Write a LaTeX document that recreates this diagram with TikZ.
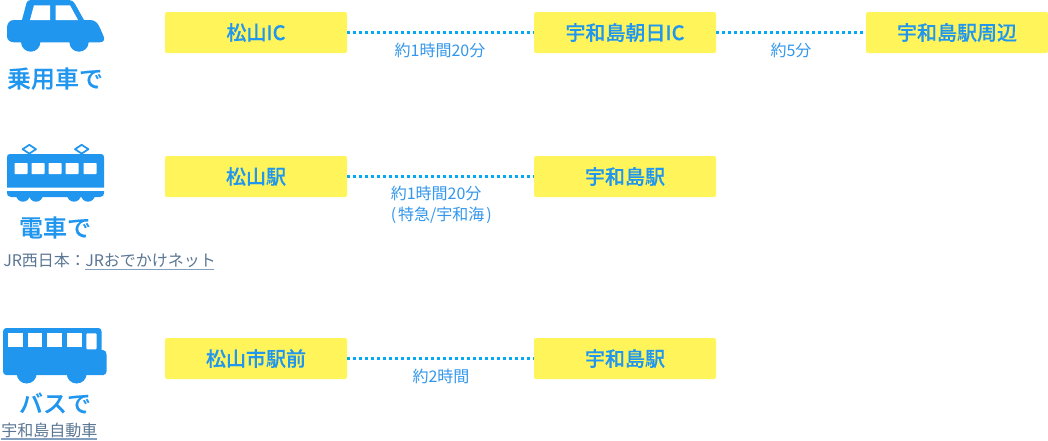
\documentclass[tikz,border=0pt]{standalone}
\usepackage{fontspec}
\setmainfont{Noto Sans CJK JP}
\newfontfamily\medcjk{Noto Sans CJK JP Medium}[FakeBold=0.3]
\definecolor{mainblue}{RGB}{33,150,238}
\definecolor{timeblue}{RGB}{50,150,235}
\definecolor{dotblue}{RGB}{3,169,244}
\definecolor{boxyellow}{RGB}{255,245,90}
\definecolor{linkgray}{RGB}{90,118,146}
\definecolor{linkline}{RGB}{130,160,190}
\tikzset{
  x=0.75pt,y=-0.75pt,
  stopbox/.style={fill=boxyellow,rounded corners=1.5pt,minimum width=136.5pt,minimum height=30.75pt,inner sep=0pt,text=mainblue,font=\medcjk\fontsize{15}{15}\selectfont},
  conn/.style={dotblue,line width=2.25pt,dash pattern=on 2.25pt off 2.25pt},
  timelabel/.style={text=timeblue,font=\fontsize{12}{16}\selectfont,align=center,inner sep=0pt},
  modelabel/.style={text=mainblue,font=\medcjk\fontsize{18}{18}\selectfont,inner sep=0pt},
  linklabel/.style={text=linkgray,font=\fontsize{12}{12}\selectfont,inner sep=0pt},
  icon/.style={fill=mainblue,draw=none},
  hole/.style={fill=white,draw=none},
}
\begin{document}
\begin{tikzpicture}
\useasboundingbox (0,0) rectangle (1048,440);
% stops
\node[stopbox] (a1) at (256,32.5) {松山IC};
\node[stopbox] (a2) at (625,32.5) {宇和島朝日IC};
\node[stopbox] (a3) at (957,32.5) {宇和島駅周辺};
\node[stopbox] (b1) at (256,176.5) {松山駅};
\node[stopbox] (b2) at (625,176.5) {宇和島駅};
\node[stopbox] (c1) at (256,358.5) {松山市駅前};
\node[stopbox] (c2) at (625,358.5) {宇和島駅};
% connectors
\draw[conn] (a1) -- (a2);
\draw[conn] (a2) -- (a3);
\draw[conn] (b1) -- (b2);
\draw[conn] (c1) -- (c2);
% times
\node[timelabel] (t1) at (440,50.5) {約1時間20分};
\node[timelabel] (t2) at (791,50.5) {約5分};
\node[timelabel,align=left,anchor=west] (t3) at (390.5,205) {約1時間20分\\(\kern1.5pt特急/宇和海\kern1.5pt)};
\node[timelabel] (t4) at (441,376) {約2時間};
% mode titles
\node[modelabel] (m1) at (55,78.5) {乗用車で};
\node[modelabel] (m2) at (55,227.5) {電車で};
\node[modelabel] (m3) at (55,403) {バスで};
% links
\node[linklabel,anchor=west] (l1) at (3,260.5) {JR西日本：};
\node[linklabel,anchor=west] (l2) at (85,260.5) {JRおでかけネット};
\draw[linkline,line width=0.9pt] (85,269.5) -- (214,269.5);
\node[linklabel,anchor=west] (l3) at (1,430) {宇和島自動車};
\draw[linkline,line width=0.9pt] (1,439) -- (97,439);
% car
\fill[icon] (31,0) .. controls (28.5,0) and (27,1) .. (26.5,3) -- (22,20) -- (14,20) .. controls (9,20) and (7,24) .. (7,28) -- (7,36) .. controls (7,40) and (10,42.3) .. (14,42.3)
  -- (100,42.3)
  .. controls (104,42.3) and (105,39) .. (103.5,36) -- (100,28) .. controls (98,23) and (95,20) .. (90,20) -- (84,20) -- (75,4) .. controls (73.5,1.5) and (72,0) .. (69,0) -- cycle;
\fill[icon] (30.7,42) circle[radius=9.7];
\fill[icon] (79,42) circle[radius=9.7];
\fill[hole] (34,5.3) -- (50,5.3) -- (50,20) -- (30,20) -- cycle;
\fill[hole] (55.7,5.3) -- (70,5.3) -- (78,20) -- (55.7,20) -- cycle;
% train
\fill[icon] (10,154) -- (101,154) .. controls (103,154) and (104,155) .. (104,157) -- (104,187.7) -- (7,187.7) -- (7,157) .. controls (7,155) and (8,154) .. (10,154) -- cycle;
\begin{scope}
\clip (0,191) rectangle (110,205);
\fill[icon] (7,191) -- (104,191) -- (104,193) .. controls (104,195) and (103,197) .. (100,197) -- (11,197) .. controls (8,197) and (7,195) .. (7,193) -- cycle;
\foreach \c in {23,36,74,88}{\fill[icon] (\c,194.7) circle[radius=7];}
\end{scope}
\foreach \c in {29.3,81.7}{
  \draw[mainblue,line width=1.3pt,line join=round] (\c,144.8) -- (\c+6.7,149.2) -- (\c,153.6) -- (\c-6.7,149.2) -- cycle;
}
\foreach \c in {21,38,55,72,90}{\fill[hole,rounded corners=0.5pt] (\c-6.5,163) rectangle (\c+6.5,174);}
% bus
\fill[icon] (6,328) -- (98.7,328) .. controls (100.7,328) and (101.7,330) .. (101.7,332) -- (101.7,350) -- (103,350) .. controls (105,350) and (106.7,352) .. (106.7,355)
  -- (106.7,371) .. controls (106.7,373) and (105,375) .. (103.5,375) -- (6,375) .. controls (4,375) and (3,373) .. (3,371) -- (3,332) .. controls (3,330) and (4,328) .. (6,328) -- cycle;
\fill[icon] (26.7,373.5) circle[radius=10];
\fill[icon] (76.7,373.5) circle[radius=10];
\foreach \c in {15.8,35,54.8,74.2}{\fill[hole] (\c-7.4,333.3) rectangle (\c+7.4,346.7);}
\fill[hole,rounded corners=0.8pt] (86.3,333.3) rectangle (96.7,349.3);
\end{tikzpicture}
\end{document}
